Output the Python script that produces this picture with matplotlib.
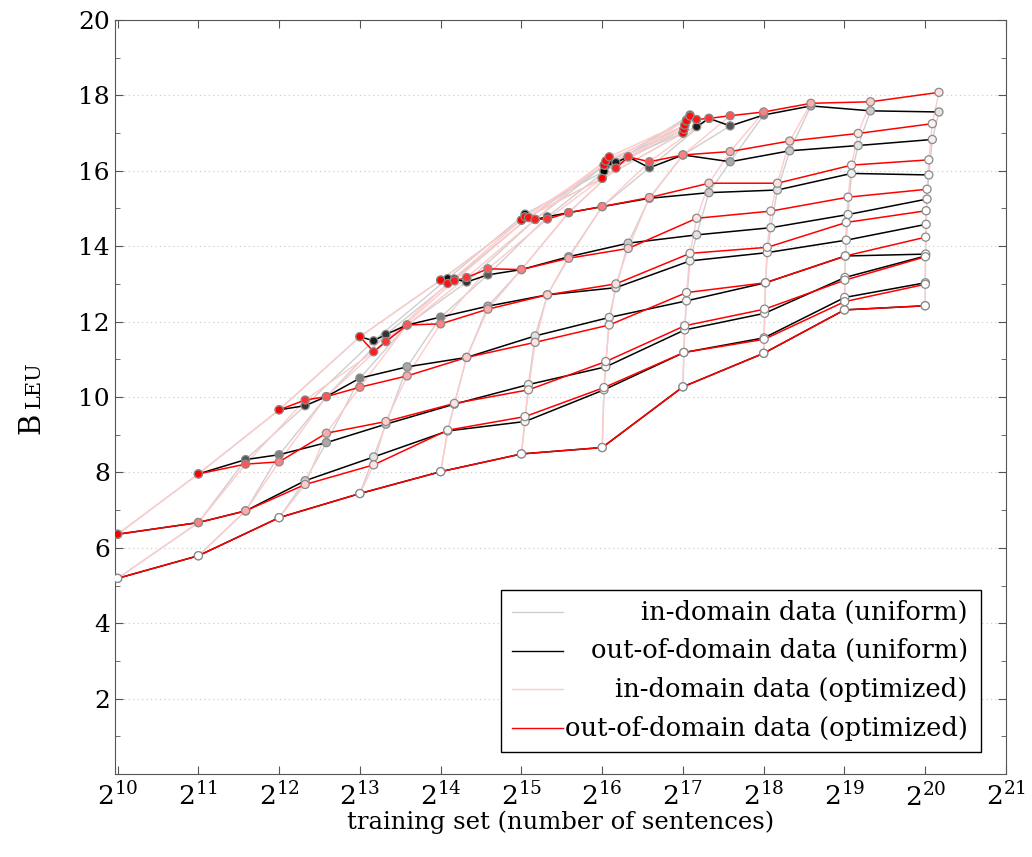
import numpy as np
import matplotlib
matplotlib.use("Agg")
import matplotlib.pyplot as plt
from matplotlib.lines import Line2D
from matplotlib.patches import Rectangle
from matplotlib.ticker import FixedLocator, NullLocator

plt.rcParams["font.family"] = "serif"
plt.rcParams["font.serif"] = ["DejaVu Serif"]
plt.rcParams["mathtext.fontset"] = "dejavuserif"

# log2 of in-domain / out-of-domain sentence counts (None = no data of that kind)
in_domain_exp = [None, 10, 11, 12, 13, 14, 15, 16, 17]
out_domain_exp = [None, 10, 11, 12, 13, 14, 15, 16, 17, 18, 19, 20]

# BLEU, rows = in-domain size, columns = out-of-domain size
bleu_uniform = [
    [np.nan, 5.19, 5.79, 6.80, 7.44, 8.02, 8.49, 8.66, 10.27, 11.16, 12.31, 12.42],
    [6.36, 6.67, 6.98, 7.78, 8.41, 9.10, 9.35, 10.19, 11.18, 11.57, 12.64, 13.03],
    [7.96, 8.34, 8.47, 8.79, 9.28, 9.81, 10.33, 10.80, 11.78, 12.22, 13.17, 13.74],
    [9.66, 9.77, 10.01, 10.50, 10.80, 11.05, 11.62, 12.11, 12.55, 13.03, 13.74, 13.79],
    [11.60, 11.49, 11.66, 11.91, 12.12, 12.41, 12.71, 12.90, 13.61, 13.83, 14.16, 14.58],
    [13.10, 13.14, 13.13, 13.05, 13.24, 13.38, 13.72, 14.08, 14.30, 14.49, 14.84, 15.25],
    [14.69, 14.85, 14.76, 14.71, 14.78, 14.89, 15.05, 15.27, 15.42, 15.49, 15.93, 15.89],
    [15.80, 15.99, 16.15, 16.24, 16.22, 16.37, 16.08, 16.42, 16.24, 16.53, 16.67, 16.83],
    [17.00, 17.10, 17.20, 17.35, 17.48, 17.17, 17.39, 17.19, 17.48, 17.72, 17.59, 17.56],
]
bleu_optimized = [
    [np.nan, 5.19, 5.79, 6.80, 7.44, 8.02, 8.49, 8.66, 10.27, 11.16, 12.31, 12.42],
    [6.36, 6.67, 6.98, 7.68, 8.20, 9.12, 9.48, 10.25, 11.18, 11.53, 12.53, 12.99],
    [7.96, 8.22, 8.28, 9.04, 9.35, 9.83, 10.19, 10.94, 11.89, 12.33, 13.10, 13.72],
    [9.66, 9.92, 10.01, 10.26, 10.56, 11.05, 11.45, 11.91, 12.77, 13.03, 13.74, 14.24],
    [11.60, 11.20, 11.47, 11.91, 11.94, 12.33, 12.71, 13.00, 13.81, 13.97, 14.63, 14.94],
    [13.10, 13.01, 13.08, 13.17, 13.40, 13.38, 13.68, 13.94, 14.74, 14.93, 15.30, 15.51],
    [14.69, 14.78, 14.76, 14.71, 14.72, 14.89, 15.05, 15.29, 15.67, 15.67, 16.15, 16.29],
    [15.80, 16.15, 16.26, 16.37, 16.07, 16.37, 16.24, 16.42, 16.51, 16.79, 16.99, 17.25],
    [17.00, 17.10, 17.21, 17.32, 17.45, 17.36, 17.39, 17.46, 17.56, 17.79, 17.83, 18.08],
]

legend_labels = ["in-domain data (uniform)", "out-of-domain data (uniform)",
                 "in-domain data (optimized)", "out-of-domain data (optimized)"]

n_in = np.array([0.0 if e is None else 2.0 ** e for e in in_domain_exp])
n_out = np.array([0.0 if e is None else 2.0 ** e for e in out_domain_exp])
total = n_in[:, None] + n_out[None, :]
total[total == 0] = np.nan
frac_in = n_in[:, None] / total

fig = plt.figure(figsize=(10.32, 8.57), dpi=100)
ax = fig.add_axes([0.1114, 0.0968, 0.8634, 0.8799])
ax.set_xscale("log", base=2)

styles = [
    (np.array(bleu_uniform), "#cfcfcf", "black", (0, 0, 0)),
    (np.array(bleu_optimized), "#ffcaca", "#ff0000", (1, 0, 0)),
]
for k, (Y, in_col, out_col, full) in enumerate(styles):
    # in-domain curves: fixed out-of-domain amount
    for c in range(Y.shape[1]):
        ax.plot(total[:, c], Y[:, c], color=in_col, lw=1.0, zorder=1 + k * 0.1)
for k, (Y, in_col, out_col, full) in enumerate(styles):
    # out-of-domain curves: fixed in-domain amount
    for r in range(Y.shape[0]):
        ax.plot(total[r], Y[r], color=out_col, lw=1.1, zorder=2 + k)
for k, (Y, in_col, out_col, full) in enumerate(styles):
    f = np.nan_to_num(frac_in).ravel()
    cols = [(1 - v + v * full[0], 1 - v + v * full[1], 1 - v + v * full[2]) for v in f]
    ax.scatter(total.ravel(), Y.ravel(), s=34, c=cols, edgecolors="#8a8a8a",
               linewidths=0.9, zorder=4 + k)

ax.set_xlim(2 ** 9.967, 2 ** 21)
ax.set_ylim(0, 20)
ax.xaxis.set_major_locator(FixedLocator([2.0 ** e for e in range(10, 22)]))
ax.xaxis.set_minor_locator(NullLocator())
ax.set_xticklabels([r"$2^{%d}$" % e for e in range(10, 22)])
ax.set_yticks(range(2, 21, 2))
ax.yaxis.set_minor_locator(FixedLocator(range(1, 20, 2)))
ax.tick_params(which="both", direction="in", top=True, right=True, labelsize=18,
               color="#555555")
ax.tick_params(which="major", length=6)
ax.tick_params(which="minor", length=3.5)
ax.tick_params(axis="x", pad=6, labelsize=19)
for s in ax.spines.values():
    s.set_color("#555555")
ax.yaxis.grid(True, linestyle=(0, (1, 3)), color="#c8c8c8", lw=0.8)
ax.set_axisbelow(True)

ax.set_xlabel("training set (number of sentences)", fontsize=17.5, labelpad=0)
fig.text(0.0385, 0.493, "B", fontsize=21, rotation=90, rotation_mode="anchor",
         ha="left", va="baseline")
fig.text(0.0385, 0.5235, "LEU", fontsize=15, rotation=90, rotation_mode="anchor",
         ha="left", va="baseline")

# legend box with right-aligned entries
ax.add_patch(Rectangle((0.4336, 0.0292), 0.5382, 0.2148, transform=ax.transAxes,
                       facecolor="white", edgecolor="black", lw=1.0, zorder=10))
handle_cols = ["#cfcfcf", "black", "#ffcaca", "#ff0000"]
for i, (lab, col) in enumerate(zip(legend_labels, handle_cols)):
    yy = 0.2149 - i * 0.0513
    ax.add_line(Line2D([0.4459, 0.5023], [yy, yy], transform=ax.transAxes,
                       color=col, lw=1.0, zorder=11))
    ax.text(0.957, yy, lab, transform=ax.transAxes, ha="right", va="center",
            fontsize=18.5, zorder=11)

fig.savefig("out.png", dpi=100)
